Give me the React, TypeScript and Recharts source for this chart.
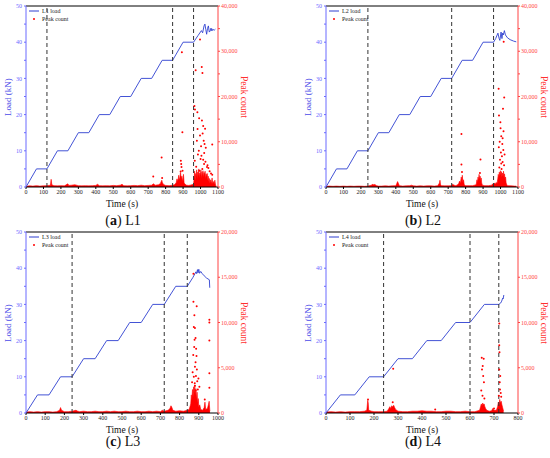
import React from "react";
import { ComposedChart, Line, Area, Scatter, XAxis, YAxis, ReferenceLine } from "recharts";

const SERIF = '"Liberation Serif", "DejaVu Serif", serif';
const LOAD_BLUE = "#2e3fd0";
const AXIS_BLUE = "#6b6bff";
const RED = "#ff0000";
const AXIS_RED = "#ff4545";

// x axis ticks (s)
const xTicks1100 = [0, 100, 200, 300, 400, 500, 600, 700, 800, 900, 1000, 1100];
const xTicks1000 = [0, 100, 200, 300, 400, 500, 600, 700, 800, 900, 1000];
const xTicks800 = [0, 100, 200, 300, 400, 500, 600, 700, 800];
const loadTicks = [0, 5, 10, 15, 20, 25, 30, 35, 40, 45, 50];
const countTicks40k = [0, 5000, 10000, 15000, 20000, 25000, 30000, 35000, 40000];
const countTicks20k = [0, 5000, 10000, 15000, 20000];

// load history: [time s, load kN]
const stairsTo40: [number, number][] = [
  [0, 0], [60, 5], [120, 5], [180, 10], [240, 10], [300, 15], [360, 15], [420, 20], [480, 20],
  [540, 25], [600, 25], [660, 30], [720, 30], [780, 35], [840, 35], [900, 40], [960, 40],
];

const loadA: [number, number][] = [
  ...stairsTo40,
  [985, 41.8], [1005, 43.2], [1012, 42.6], [1020, 44.5], [1025, 45], [1030, 43.5], [1035, 42.2],
  [1040, 43.8], [1045, 44.5], [1050, 42.8], [1055, 43.1], [1060, 43.9], [1065, 43.1], [1070, 43.6],
  [1078, 43.3], [1085, 43.6],
];

const loadB: [number, number][] = [
  ...stairsTo40,
  [972, 41], [985, 42.5], [992, 41], [996, 40.5], [1003, 42.8], [1008, 41], [1012, 42.5], [1016, 42],
  [1022, 43.2], [1028, 42], [1040, 41.2], [1055, 40.7], [1075, 40.3], [1090, 40.1],
];

const loadC: [number, number][] = [
  ...stairsTo40.slice(0, 15),
  [870, 37.5], [885, 39], [889, 38.5], [893, 39.6], [896, 38.7], [900, 39.7], [904, 38.6], [910, 39.1],
  [918, 38.5], [928, 37.9], [940, 37.3], [955, 36.8], [957, 34.6],
];

const loadD: [number, number][] = [
  ...stairsTo40.slice(0, 13),
  [728, 30.4], [732, 30.9], [736, 31.7], [738, 31.5], [741, 32.6],
];

// dense peak-count band (upper envelope): [time s, count]
const bandA: [number, number][] = [
  [0, 150], [20, 250], [40, 200], [60, 300], [80, 200], [100, 250], [120, 300], [140, 400], [144, 1700],
  [148, 500], [160, 300], [180, 250], [200, 300], [220, 250], [240, 700], [245, 350], [260, 400],
  [280, 500], [300, 300], [320, 250], [340, 300], [360, 250], [380, 300], [400, 350], [410, 600],
  [420, 300], [440, 250], [460, 300], [480, 250], [500, 350], [520, 300], [540, 400], [550, 600],
  [560, 300], [580, 250], [600, 300], [620, 350], [640, 300], [660, 400], [680, 300], [700, 350],
  [720, 400], [730, 700], [740, 400], [760, 500], [770, 800], [778, 1500], [782, 900], [790, 500],
  [800, 350], [820, 300], [840, 400], [850, 500], [860, 900], [865, 1800], [870, 1200], [875, 2600],
  [880, 1500], [885, 3200], [890, 1800], [893, 2400], [897, 1200], [902, 2800], [906, 900], [912, 600],
  [920, 400], [930, 350], [940, 400], [950, 500], [960, 600], [963, 1800], [966, 3500], [969, 1500],
  [972, 3000], [975, 2200], [978, 3800], [981, 1800], [984, 3300], [987, 2400], [990, 4000], [993, 2000],
  [996, 3100], [999, 2600], [1002, 3800], [1005, 1900], [1008, 3400], [1011, 2500], [1014, 3600],
  [1017, 2100], [1020, 3200], [1023, 2700], [1026, 3500], [1029, 1800], [1032, 2900], [1035, 2200],
  [1038, 3000], [1041, 1500], [1044, 2400], [1047, 1200], [1050, 1900], [1054, 900], [1058, 1600],
  [1062, 700], [1066, 2000], [1070, 800], [1074, 1200], [1078, 600], [1082, 1500], [1086, 400], [1090, 300],
];

const bandB: [number, number][] = [
  [0, 150], [20, 200], [40, 150], [60, 200], [80, 150], [100, 200], [120, 150], [140, 200], [160, 150],
  [180, 200], [200, 200], [220, 150], [240, 200], [260, 400], [265, 600], [270, 500], [280, 550],
  [290, 300], [300, 200], [320, 200], [340, 250], [360, 200], [380, 250], [400, 300], [405, 700],
  [410, 1200], [415, 800], [420, 300], [440, 200], [460, 250], [480, 300], [490, 400], [500, 250],
  [520, 200], [540, 250], [560, 200], [580, 250], [600, 250], [620, 200], [640, 300], [650, 900],
  [653, 1500], [656, 600], [660, 300], [680, 250], [700, 250], [720, 300], [725, 600], [730, 500],
  [740, 300], [750, 400], [760, 700], [765, 1300], [770, 900], [775, 2200], [778, 1500], [781, 2600],
  [784, 1100], [788, 1600], [792, 500], [800, 300], [820, 300], [840, 300], [860, 500], [865, 1600],
  [868, 1000], [871, 2200], [874, 1500], [877, 2800], [880, 1700], [883, 2400], [886, 1300], [889, 2000],
  [892, 900], [896, 400], [910, 300], [930, 300], [950, 400], [955, 700], [960, 500], [965, 900],
  [970, 600], [975, 1000], [980, 800], [984, 1800], [987, 2800], [990, 2000], [993, 3300], [996, 2400],
  [999, 3600], [1002, 2600], [1005, 3400], [1008, 2200], [1011, 3100], [1014, 2500], [1017, 3500],
  [1020, 2100], [1023, 2900], [1026, 1600], [1029, 2200], [1032, 900], [1036, 500], [1040, 300],
  [1060, 250], [1080, 200], [1090, 200],
];

const bandC: [number, number][] = [
  [0, 100], [20, 150], [40, 100], [60, 150], [80, 100], [100, 150], [120, 150], [140, 100], [160, 150],
  [175, 300], [180, 600], [185, 300], [200, 150], [220, 150], [240, 200], [250, 250], [260, 300],
  [270, 200], [280, 150], [300, 200], [320, 150], [340, 150], [360, 200], [380, 150], [400, 150],
  [420, 200], [440, 150], [460, 200], [480, 150], [500, 150], [520, 200], [540, 150], [560, 150],
  [580, 200], [600, 150], [620, 150], [640, 200], [660, 150], [680, 200], [700, 150], [710, 300],
  [720, 200], [740, 300], [750, 500], [755, 800], [760, 600], [765, 300], [780, 200], [800, 250],
  [820, 200], [840, 300], [850, 400], [858, 1000], [861, 2000], [864, 1400], [867, 2600], [870, 1800],
  [873, 2900], [876, 2200], [879, 3100], [882, 2000], [885, 2700], [888, 1500], [891, 2300], [894, 1100],
  [897, 1600], [900, 700], [905, 900], [910, 400], [920, 300], [928, 600], [932, 1200], [936, 400],
  [945, 500], [950, 900], [954, 1300], [957, 400], [958, 200],
];

const bandD: [number, number][] = [
  [0, 100], [20, 150], [40, 100], [60, 150], [80, 100], [100, 150], [120, 150], [140, 150], [160, 200],
  [170, 300], [174, 1400], [176, 1100], [178, 300], [190, 200], [200, 150], [220, 150], [240, 150],
  [255, 200], [262, 500], [266, 700], [270, 500], [274, 800], [278, 650], [282, 850], [286, 600],
  [290, 400], [300, 200], [320, 150], [340, 150], [360, 200], [380, 200], [400, 250], [420, 200],
  [440, 200], [460, 150], [480, 150], [500, 200], [520, 200], [540, 150], [560, 150], [580, 200],
  [600, 150], [620, 150], [640, 300], [644, 700], [647, 1000], [650, 800], [653, 1100], [656, 900],
  [659, 1000], [662, 700], [665, 500], [670, 300], [680, 200], [690, 250], [695, 500], [700, 300],
  [710, 300], [715, 700], [718, 1200], [721, 900], [724, 1500], [727, 1100], [730, 1300], [733, 900],
  [736, 600], [740, 200],
];

// isolated peak-count points: [time s, count]
const peaksA: [number, number][] = [
  [729, 2300], [777, 6500], [780, 2000], [893, 29800], [896, 12100], [887, 5800], [889, 5100], [891, 4400],
  [886, 3400], [897, 3600], [997, 32600], [972, 25800], [1007, 26500], [1011, 25200], [968, 17100],
  [982, 16500], [992, 15200], [1008, 14700], [1015, 13500], [1026, 12900], [997, 11400], [979, 10200],
  [1018, 10200], [1030, 8700], [990, 8000], [1005, 6900], [1067, 9400], [967, 5800], [1020, 5100],
  [1037, 4400], [993, 3600], [1067, 2700], [1012, 11800], [1023, 9500], [985, 7200], [1000, 6200],
  [1028, 5600], [1040, 4800], [975, 4500], [1010, 4000], [1052, 3500], [1060, 3000], [1045, 4200],
  [983, 12800], [1003, 9000], [1021, 7500], [1015, 6000], [965, 17900],
];

const peaksB: [number, number][] = [
  [776, 11700], [776, 5000], [779, 3300], [885, 6100], [882, 3100], [1018, 32100], [989, 21700],
  [1021, 19800], [991, 15800], [1014, 17300], [1000, 13000], [1004, 11200], [995, 10000], [1010, 9500],
  [1016, 8200], [1002, 7600], [1008, 6800], [997, 6000], [1012, 5500], [1020, 4800], [993, 4300],
  [1006, 4000], [999, 14300], [1017, 12300], [1012, 10800], [990, 8800], [1023, 7200], [1004, 5200],
];

const peaksC: [number, number][] = [
  [872, 15400], [872, 12300], [889, 11800], [877, 10800], [880, 9400], [874, 9500], [878, 8100],
  [876, 7300], [871, 6400], [880, 5100], [874, 4000], [879, 3300], [884, 2500], [955, 10300],
  [955, 10000], [955, 8000], [955, 4400], [955, 2800], [931, 1500], [883, 8300], [886, 7100],
  [888, 6300], [883, 5600], [890, 4800], [885, 4100], [892, 3500], [880, 3000], [895, 2600],
  [868, 4500], [898, 3800], [903, 2900], [865, 3400],
];

const peaksD: [number, number][] = [
  [175, 1500], [280, 4900], [278, 1200], [649, 6100], [657, 6000], [653, 5200], [650, 4800],
  [655, 4100], [658, 3400], [647, 2500], [652, 1900], [660, 1600], [722, 9900], [722, 7500],
  [723, 6700], [722, 4800], [724, 3400], [725, 2600], [720, 1900], [728, 2200], [726, 4100],
  [455, 400], [700, 500], [730, 1800],
];

const dashesA = [120, 840, 960];
const dashesB = [240, 720, 960];
const dashesC = [240, 720, 840];
const dashesD = [240, 600, 720];

const W = 260;
const H = 205;

function buildRows(load: [number, number][], band: [number, number][]) {
  const rows = new Map<number, any>();
  load.forEach(([t, v]) => rows.set(t, { ...(rows.get(t) || { t }), load: v }));
  band.forEach(([t, c]) => rows.set(t, { ...(rows.get(t) || { t }), band: c }));
  return [...rows.values()].sort((a, b) => a.t - b.t);
}

const dot = (p: any) => <circle cx={p.cx} cy={p.cy} r={1} fill={RED} />;

function Panel(props: any) {
  const { left, top, load, band, peaks, dashes, xMax, xTicks, rMax, rTicks, rStep, name, letter, captionY } = props;
  const rows = buildRows(load, band);
  const pts = peaks.map(([t, c]: [number, number]) => ({ t, c }));
  const tick = { fontSize: 6, fontFamily: SERIF };
  return (
    <div style={{ position: "absolute", left, top, width: W, height: 230 }}>
      <ComposedChart width={W} height={H} data={rows} margin={{ top: 6, right: 12, bottom: 2, left: 4 }}>
        <XAxis
          type="number"
          dataKey="t"
          domain={[0, xMax]}
          ticks={xTicks}
          interval={0}
          height={16}
          tickSize={2}
          tickMargin={1}
          stroke="#000"
          tick={{ ...tick, fill: "#222" }}
        />
        <YAxis
          yAxisId="l"
          orientation="left"
          width={22}
          domain={[0, 50]}
          ticks={loadTicks}
          interval={0}
          tickSize={2}
          tickMargin={2}
          stroke={AXIS_BLUE}
          tick={{ ...tick, fill: AXIS_BLUE }}
          tickFormatter={(v: number) => (v % 10 === 0 ? String(v) : "")}
        />
        <YAxis
          yAxisId="r"
          orientation="right"
          width={30}
          domain={[0, rMax]}
          ticks={rTicks}
          interval={0}
          tickSize={2}
          tickMargin={1}
          stroke={AXIS_RED}
          tick={{ ...tick, fill: AXIS_RED }}
          tickFormatter={(v: number) => (v % rStep === 0 ? v.toLocaleString("en-US") : "")}
        />
        <ReferenceLine yAxisId="l" y={50} stroke="#000" strokeWidth={1} />
        <Area
          yAxisId="r"
          dataKey="band"
          type="linear"
          connectNulls
          stroke={RED}
          strokeWidth={0.6}
          fill={RED}
          fillOpacity={1}
          dot={false}
          activeDot={false}
          isAnimationActive={false}
        />
        <Scatter yAxisId="r" data={pts} dataKey="c" shape={dot} isAnimationActive={false} />
        <Line
          yAxisId="l"
          dataKey="load"
          type="linear"
          connectNulls
          stroke={LOAD_BLUE}
          strokeWidth={0.9}
          dot={false}
          activeDot={false}
          isAnimationActive={false}
        />
        {dashes.map((x: number) => (
          <ReferenceLine key={x} yAxisId="l" x={x} stroke="#333" strokeWidth={1} strokeDasharray="4 3" />
        ))}
      </ComposedChart>
      <svg
        width={275}
        height={230}
        style={{ position: "absolute", left: 0, top: 0, pointerEvents: "none", overflow: "visible" }}
        fontFamily={SERIF}
      >
        <line x1={29} x2={39} y1={11} y2={11} stroke={LOAD_BLUE} strokeWidth={1} />
        <text x={42} y={11} fontSize={6} dominantBaseline="central" fill="#222">{name} load</text>
        <circle cx={34} cy={19} r={1} fill={RED} />
        <text x={42} y={19} fontSize={6} dominantBaseline="central" fill="#222">Peak count</text>
        <text
          x={8}
          y={97}
          fontSize={9}
          fill="#4a4ae8"
          textAnchor="middle"
          dominantBaseline="central"
          transform="rotate(-90 8 97)"
        >
          Load (kN)
        </text>
        <text
          x={244}
          y={97}
          fontSize={9.5}
          fill="#ff3030"
          textAnchor="middle"
          dominantBaseline="central"
          transform="rotate(90 244 97)"
        >
          Peak count
        </text>
        <text x={122} y={204} fontSize={9.5} fill="#111" textAnchor="middle" dominantBaseline="central">
          Time (s)
        </text>
        <text x={123} y={captionY} fontSize={14} fill="#111" textAnchor="middle" dominantBaseline="central">
          (<tspan fontWeight="bold">{letter}</tspan>) {name}
        </text>
      </svg>
    </div>
  );
}

export default function App() {
  return (
    <div style={{ position: "absolute", left: 0, top: 0, width: 550, height: 458, background: "#fff", overflow: "hidden" }}>
      <Panel left={0} top={0} load={loadA} band={bandA} peaks={peaksA} dashes={dashesA} xMax={1100}
        xTicks={xTicks1100} rMax={40000} rTicks={countTicks40k} rStep={10000} name="L1" letter="a" captionY={220} />
      <Panel left={300} top={0} load={loadB} band={bandB} peaks={peaksB} dashes={dashesB} xMax={1100}
        xTicks={xTicks1100} rMax={40000} rTicks={countTicks40k} rStep={10000} name="L2" letter="b" captionY={220} />
      <Panel left={0} top={226} load={loadC} band={bandC} peaks={peaksC} dashes={dashesC} xMax={1000}
        xTicks={xTicks1000} rMax={20000} rTicks={countTicks20k} rStep={5000} name="L3" letter="c" captionY={215} />
      <Panel left={300} top={226} load={loadD} band={bandD} peaks={peaksD} dashes={dashesD} xMax={800}
        xTicks={xTicks800} rMax={20000} rTicks={countTicks20k} rStep={5000} name="L4" letter="d" captionY={215} />
    </div>
  );
}
